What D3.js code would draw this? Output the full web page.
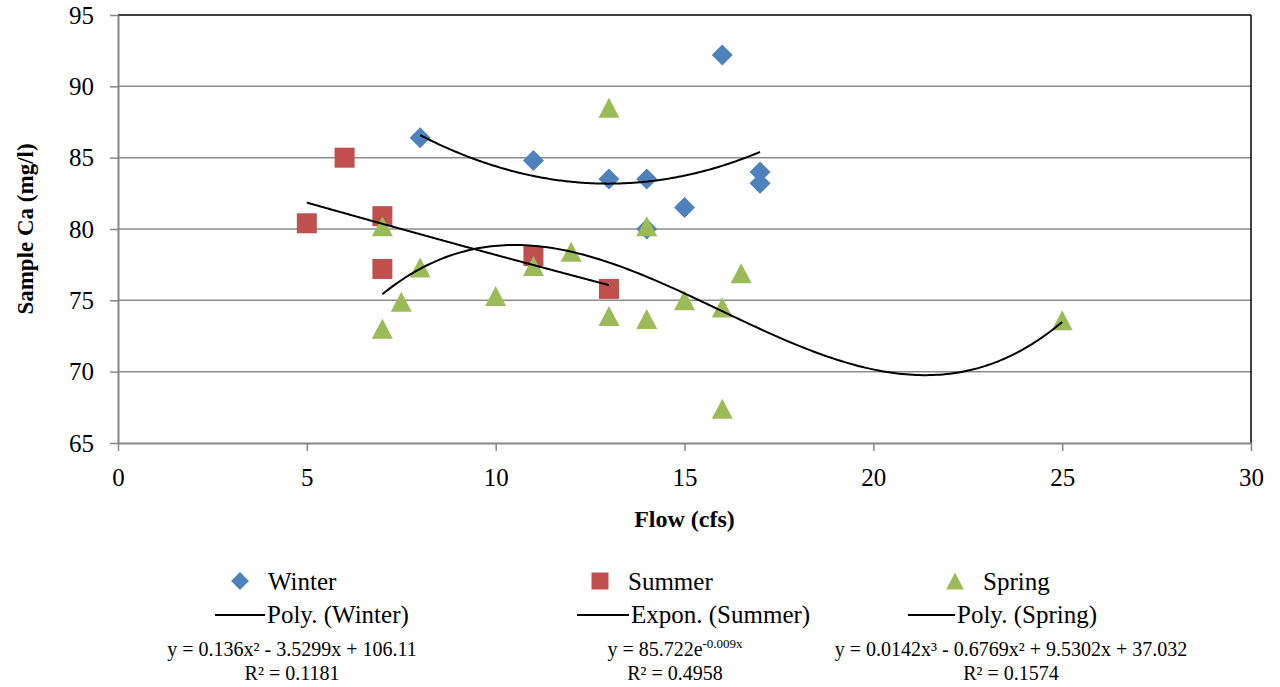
<!DOCTYPE html>
<html>
<head>
<meta charset="utf-8">
<script src="https://cdn.jsdelivr.net/npm/d3@7"></script>
<style>
  html, body { margin: 0; padding: 0; background: #fff; }
  svg { display: block; }
  svg text { font-family: "Liberation Serif", "Times New Roman", Times, serif; fill: #000; }
</style>
</head>
<body>
<svg id="chart" width="1280" height="687"></svg>
<script>
// ---- data ----
const winterX = [8, 11, 13, 14, 14, 15, 16, 17, 17];
const winterY = [86.4, 84.8, 83.5, 83.5, 80.0, 81.5, 92.2, 84.0, 83.2];
const summerX = [5, 6, 7, 7, 11, 13];
const summerY = [80.4, 85.0, 80.9, 77.2, 78.1, 75.8];
const springX = [7, 7, 7.5, 8, 10, 11, 12, 13, 13, 14, 14, 15, 16, 16, 16.5, 25];
const springY = [80.2, 73.0, 74.9, 77.3, 75.3, 77.4, 78.4, 88.5, 73.9, 80.2, 73.7, 75.0, 74.5, 67.4, 76.9, 73.6];
const xTicks = [0, 5, 10, 15, 20, 25, 30];
const yTicks = [65, 70, 75, 80, 85, 90, 95];
const seriesNames = ["Winter", "Summer", "Spring"];
const trendNames = ["Poly. (Winter)", "Expon. (Summer)", "Poly. (Spring)"];
const equationLabels = ["y = 0.136x² - 3.5299x + 106.11", "y = 85.722e", "y = 0.0142x³ - 0.6769x² + 9.5302x + 37.032"];
const expLabel = "-0.009x";
const r2Labels = ["R² = 0.1181", "R² = 0.4958", "R² = 0.1574"];
const colors = ["#4F81BD", "#C0504D", "#9BBB59"];

// ---- layout ----
const svg = d3.select("#chart");
const x = d3.scaleLinear().domain([0, 30]).range([118, 1251]);
const y = d3.scaleLinear().domain([65, 95]).range([443, 15]);
const axisGray = "#868686";

// gridlines
svg.append("g").selectAll("line")
  .data(yTicks.filter(t => t > 65 && t < 95))
  .join("line")
  .attr("x1", x(0)).attr("x2", x(30))
  .attr("y1", d => y(d)).attr("y2", d => y(d))
  .attr("stroke", "#8C8C8C").attr("stroke-width", 1.5);

// top & right border
svg.append("line").attr("x1", x(0)).attr("x2", x(30)).attr("y1", y(95)).attr("y2", y(95))
  .attr("stroke", "#000").attr("stroke-width", 1.5);
svg.append("line").attr("x1", x(30)).attr("x2", x(30)).attr("y1", y(95)).attr("y2", y(65))
  .attr("stroke", "#000").attr("stroke-width", 1.5);

// axes
const xAxis = svg.append("g").attr("transform", `translate(0,${y(65)})`)
  .call(d3.axisBottom(x).tickValues(xTicks).tickSize(8).tickSizeOuter(0).tickPadding(17));
const yAxis = svg.append("g").attr("transform", `translate(${x(0)},0)`)
  .call(d3.axisLeft(y).tickValues(yTicks).tickSize(8).tickSizeOuter(0).tickPadding(16));
[xAxis, yAxis].forEach(a => {
  a.attr("font-family", null).attr("font-size", null);
  a.select(".domain").attr("stroke", axisGray).attr("stroke-width", 2);
  a.selectAll(".tick line").attr("stroke", axisGray).attr("stroke-width", 1.5);
  a.selectAll(".tick text").style("font-size", "25px");
});

// axis titles
svg.append("text").attr("x", x(15)).attr("y", 527).attr("text-anchor", "middle")
  .style("font-size", "24px").style("font-weight", "bold").text("Flow (cfs)");
svg.append("text").attr("transform", `translate(33,${y(80)}) rotate(-90)`)
  .attr("text-anchor", "middle").style("font-size", "23px").style("font-weight", "bold")
  .text("Sample Ca (mg/l)");

// marker shapes
const shapes = [
  "M0,-10.5L10.5,0L0,10.5L-10.5,0Z",
  "M-10,-10L10,-10L10,10L-10,10Z",
  "M0,-10L10.5,10L-10.5,10Z"
];

const series = [
  { xs: winterX, ys: winterY },
  { xs: summerX, ys: summerY },
  { xs: springX, ys: springY }
];
series.forEach((s, i) => {
  svg.append("g").selectAll("path")
    .data(s.xs.map((v, j) => [v, s.ys[j]]))
    .join("path")
    .attr("d", shapes[i])
    .attr("transform", d => `translate(${x(d[0])},${y(d[1])})`)
    .attr("fill", colors[i]);
});

// least-squares trendlines (as the spreadsheet computes them from the data)
function polyFit(xs, ys, deg) {
  const n = deg + 1;
  const A = Array.from({ length: n }, () => new Array(n + 1).fill(0));
  xs.forEach((xv, k) => {
    for (let i = 0; i < n; i++) {
      for (let j = 0; j < n; j++) A[i][j] += Math.pow(xv, i + j);
      A[i][n] += ys[k] * Math.pow(xv, i);
    }
  });
  for (let c = 0; c < n; c++) {
    let p = c;
    for (let r = c + 1; r < n; r++) if (Math.abs(A[r][c]) > Math.abs(A[p][c])) p = r;
    [A[c], A[p]] = [A[p], A[c]];
    for (let r = 0; r < n; r++) {
      if (r === c) continue;
      const f = A[r][c] / A[c][c];
      for (let k = c; k <= n; k++) A[r][k] -= f * A[c][k];
    }
  }
  const coef = A.map((row, i) => row[n] / row[i]);
  return xv => coef.reduce((acc, k, p) => acc + k * Math.pow(xv, p), 0);
}
function expFit(xs, ys) {
  const lf = polyFit(xs, ys.map(Math.log), 1);
  return xv => Math.exp(lf(xv));
}
const trends = [
  { f: polyFit(winterX, winterY, 2), from: d3.min(winterX), to: d3.max(winterX) },
  { f: expFit(summerX, summerY), from: d3.min(summerX), to: d3.max(summerX) },
  { f: polyFit(springX, springY, 3), from: d3.min(springX), to: d3.max(springX) }
];
const line = d3.line().x(d => x(d[0])).y(d => y(d[1]));
trends.forEach(t => {
  const pts = d3.range(0, 201).map(k => {
    const xv = t.from + (t.to - t.from) * k / 200;
    return [xv, t.f(xv)];
  });
  svg.append("path").attr("d", line(pts)).attr("fill", "none")
    .attr("stroke", "#000").attr("stroke-width", 2);
});

// legend
const legMarkerX = [240, 600, 955];
const legLineX = [[215, 265], [577, 629], [908, 955]];
const eqCenterX = [292, 675, 1011];
const leg = svg.append("g");
seriesNames.forEach((n, i) => {
  leg.append("path").attr("d", shapes[i])
    .attr("transform", `translate(${legMarkerX[i]},581) scale(0.85)`)
    .attr("fill", colors[i]);
  leg.append("text").attr("x", legMarkerX[i] + 28).attr("y", 590).style("font-size", "25px").text(n);
  leg.append("line").attr("x1", legLineX[i][0]).attr("x2", legLineX[i][1])
    .attr("y1", 615).attr("y2", 615).attr("stroke", "#000").attr("stroke-width", 2);
  leg.append("text").attr("x", legLineX[i][1] + 2).attr("y", 623).style("font-size", "25px").text(trendNames[i]);
});

// equations
const eqs = svg.append("g").attr("text-anchor", "middle");
equationLabels.forEach((lab, i) => {
  const t = eqs.append("text").attr("x", eqCenterX[i]).attr("y", 656).style("font-size", "20px");
  t.append("tspan").text(lab);
  if (i === 1) t.append("tspan").style("font-size", "13px").attr("dy", -8).text(expLabel);
  eqs.append("text").attr("x", eqCenterX[i]).attr("y", 680).style("font-size", "20px").text(r2Labels[i]);
});
</script>
</body>
</html>
